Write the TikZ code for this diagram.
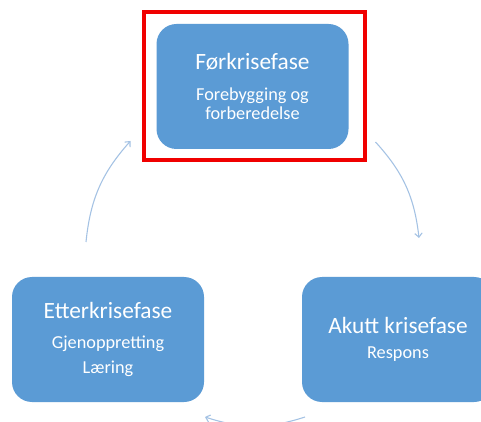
\documentclass[tikz,border=0pt]{standalone}
\usepackage{fontspec}
\setmainfont{Carlito}
\usetikzlibrary{arrows.meta}
\definecolor{Phase}{HTML}{5B9BD5}
\definecolor{Cycle}{HTML}{A4C2E4}
\definecolor{Mark}{HTML}{F00000}
\newcommand\phasetitle[1]{{\fontsize{17.5}{20}\selectfont #1}}

\begin{document}
\begin{tikzpicture}[x=0.75pt,y=0.75pt,>={Straight Barb[length=3pt,width=5.5pt]},
  phase/.style={fill=Phase,rounded corners=15pt,minimum width=144pt,minimum height=93.75pt,inner sep=0pt,outer sep=0pt,align=center,text=white,font=\fontsize{13.7}{14.25}\selectfont},
  cycle/.style={Cycle,line width=0.8pt,->,bend left=18}]
\clip (0,0) rectangle (481,421);
\fill[white] (0,0) rectangle (481,421);
% the three phases
\node[phase] (pre) at (252.5,334.5) {\phasetitle{Førkrisefase}\\[9pt]Forebygging og\\forberedelse};
\node[phase] (acute) at (398,81.5) {\phasetitle{Akutt krisefase}\\[4.5pt]Respons};
\node[phase] (post) at (108,81.5) {\phasetitle{Etterkrisefase}\\[8.25pt]Gjenoppretting\\[4.5pt]Læring};
\draw[Mark,line width=3pt] ([shift={(-13,-11)}]pre.south west) rectangle ([shift={(16,12)}]pre.north east);
% cycle arrows
\coordinate (r0) at ([shift={(27,7)}]pre.south east);
\coordinate (r1) at ([shift={(21,39)}]acute.north);
\coordinate (b0) at ([shift={(3,-15)}]acute.south west);
\coordinate (b1) at ([shift={(1,-15)}]post.south east);
\coordinate (l0) at ([shift={(-22,35)}]post.north);
\coordinate (l1) at ([shift={(-26,8)}]pre.south west);
\draw[cycle] (r0) to (r1);
\draw[cycle] (b0) to (b1);
\draw[cycle] (l0) to (l1);
\end{tikzpicture}
\end{document}
